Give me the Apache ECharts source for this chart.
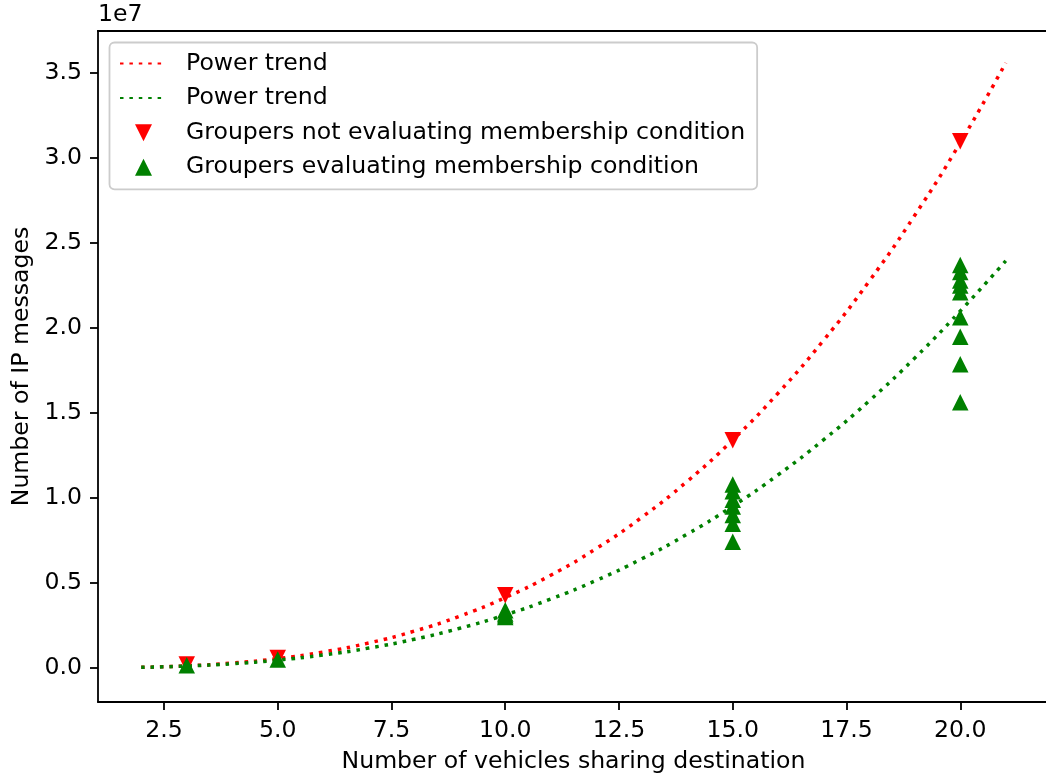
<!DOCTYPE html>
<html>
<head>
<meta charset="utf-8">
<script src="https://cdn.jsdelivr.net/npm/echarts@6/dist/echarts.min.js"></script>
<style>
  html, body { margin: 0; padding: 0; background: #fff; overflow: hidden; }
  #chart { width: 1046px; height: 776px; }
</style>
</head>
<body>
<div id="chart"></div>
<script>
// Measured message counts per number of vehicles
const groupersNoCheckX = [3, 5, 10, 15, 20];
const groupersNoCheckY = [200000, 590000, 4280000, 13390000, 30980000];

const groupersCheckX = [3, 5, 10, 10, 10, 10,
  15, 15, 15, 15, 15, 15, 15,
  20, 20, 20, 20, 20, 20, 20, 20, 20];
const groupersCheckY = [160000, 500000, 3000000, 3100000, 3200000, 3400000,
  7430000, 8490000, 9000000, 9500000, 9900000, 10400000, 10800000,
  15630000, 17870000, 19480000, 20630000, 22100000, 22500000, 22800000, 23300000, 23700000];

// Power trend curves, sampled at each vehicle count
const trendX = [2, 3, 4, 5, 6, 7, 8, 9, 10, 11, 12, 13, 14, 15, 16, 17, 18, 19, 20, 21];
const trendNoCheckY = [39000, 126000, 290000, 555000, 941000, 1472000, 2168000, 3050000,
  4141000, 5457000, 7026000, 8860000, 10982000, 13417000, 16179000, 19288000,
  22761000, 26627000, 30900000, 35597000];
const trendCheckY = [37000, 114000, 251000, 464000, 766000, 1171000, 1690000, 2337000,
  3123000, 4057000, 5153000, 6422000, 7875000, 9519000, 11369000, 13432000,
  15716000, 18236000, 21000000, 23950000];

const xTicks = [2.5, 5.0, 7.5, 10.0, 12.5, 15.0, 17.5, 20.0];
const yTicks = [0, 5000000, 10000000, 15000000, 20000000, 25000000, 30000000, 35000000];

const seriesNames = [
  'Power trend ',
  'Power trend',
  'Groupers not evaluating membership condition',
  'Groupers evaluating membership condition'
];

const zip = (xs, ys) => xs.map((x, i) => [x, ys[i]]);

const FONT = 'DejaVu Sans';
const FS = 23.6;
const RED = '#ff0000';
const GREEN = '#008000';
const DOWN_TRI = 'path://M-1,-1L1,-1L0,1Z';
const UP_TRI = 'path://M0,-1L1,1L-1,1Z';

const GRID = { left: 98, top: 31, width: 951, height: 671 };

const chart = echarts.init(document.getElementById('chart'), null, { renderer: 'canvas' });

const tickStyle = { color: '#000', width: 1.8 };

chart.setOption({
  animation: false,
  backgroundColor: '#fff',
  textStyle: { fontFamily: FONT },
  grid: Object.assign({ containLabel: false, outerBoundsMode: 'none' }, GRID),
  graphic: [{
    type: 'text', left: 98, top: 3,
    style: { text: '1e7', font: FS + 'px "DejaVu Sans"', fill: '#000' }
  }, {
    // top edge of the plot frame
    type: 'line',
    shape: { x1: GRID.left - 0.9, y1: GRID.top, x2: GRID.left + GRID.width, y2: GRID.top },
    style: { stroke: '#000', lineWidth: 1.8 },
    z: 10
  }],
  legend: {
    orient: 'vertical',
    left: 109.5, top: 42.5,
    padding: [9, 12, 10, 9.5],
    itemWidth: 47, itemHeight: 17, itemGap: 10.6,
    backgroundColor: 'rgba(255,255,255,0.8)',
    borderColor: '#cccccc', borderWidth: 1.8, borderRadius: 5,
    selectedMode: false,
    textStyle: { fontFamily: FONT, fontSize: FS, color: '#000', lineHeight: 24, padding: [0, 0, 0, 14] },
    data: [
      { name: seriesNames[0], itemStyle: { opacity: 0 } },
      { name: seriesNames[1], itemStyle: { opacity: 0 } },
      { name: seriesNames[2], icon: DOWN_TRI },
      { name: seriesNames[3], icon: UP_TRI }
    ]
  },
  xAxis: {
    type: 'value', min: 1.05, max: 21.95,
    name: 'Number of vehicles sharing destination',
    nameLocation: 'middle', nameGap: 48,
    nameTextStyle: { fontFamily: FONT, fontSize: FS, color: '#000' },
    axisLine: { show: true, onZero: false, lineStyle: tickStyle },
    axisTick: { show: true, length: 8, lineStyle: tickStyle, customValues: xTicks },
    axisLabel: { show: true, margin: 17, fontFamily: FONT, fontSize: FS, color: '#000',
      customValues: xTicks, formatter: v => v.toFixed(1) },
    splitLine: { show: false }
  },
  yAxis: {
    type: 'value', min: -2000000, max: 37470000,
    name: 'Number of IP messages',
    nameLocation: 'middle', nameGap: 64,
    nameTextStyle: { fontFamily: FONT, fontSize: FS, color: '#000' },
    axisLine: { show: true, onZero: false, lineStyle: tickStyle },
    axisTick: { show: true, length: 8, lineStyle: tickStyle, customValues: yTicks },
    axisLabel: { show: true, margin: 16, fontFamily: FONT, fontSize: FS, color: '#000',
      customValues: yTicks, formatter: v => (v / 1e7).toFixed(1) },
    splitLine: { show: false }
  },
  series: [{
    name: seriesNames[0], type: 'line', smooth: true, symbol: 'none',
    data: zip(trendX, trendNoCheckY), z: 2,
    lineStyle: { color: RED, width: 3.5, type: [3.5, 5.9], cap: 'butt' },
    itemStyle: { color: RED }
  }, {
    name: seriesNames[1], type: 'line', smooth: true, symbol: 'none',
    data: zip(trendX, trendCheckY), z: 2,
    lineStyle: { color: GREEN, width: 3.5, type: [3.5, 5.9], cap: 'butt' },
    itemStyle: { color: GREEN }
  }, {
    name: seriesNames[2], type: 'scatter', symbol: DOWN_TRI, symbolSize: 16.5,
    data: zip(groupersNoCheckX, groupersNoCheckY), z: 3,
    itemStyle: { color: RED, opacity: 1 }
  }, {
    name: seriesNames[3], type: 'scatter', symbol: UP_TRI, symbolSize: 16.5,
    data: zip(groupersCheckX, groupersCheckY), z: 4,
    itemStyle: { color: GREEN, opacity: 1 }
  }]
});
</script>
</body>
</html>
